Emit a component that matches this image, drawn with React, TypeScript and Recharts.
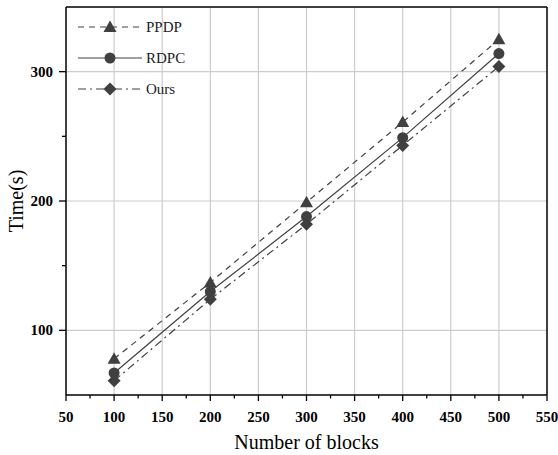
import { CartesianGrid, Legend, Line, LineChart, ReferenceLine, XAxis, YAxis } from "recharts";

const blocks = [100, 200, 300, 400, 500];
const ppdp = [78, 137, 199, 261, 325];
const rdpc = [67, 130, 188, 249, 314];
const ours = [61, 124, 182, 243, 304];

const xTicks = [50, 75, 100, 125, 150, 175, 200, 225, 250, 275, 300, 325, 350, 375, 400, 425, 450, 475, 500, 525, 550];
const yTicks = [100, 150, 200, 250, 300];
const xGrid = [100, 150, 200, 250, 300, 350, 400, 450, 500];
const yGrid = [100, 200, 300];

const data = blocks.map((b, i) => ({ blocks: b, ppdp: ppdp[i], rdpc: rdpc[i], ours: ours[i] }));

const FONT = "'Liberation Serif', 'Times New Roman', serif";
const INK = "#404040";

type Marker = "triangle" | "circle" | "diamond";

function drawMarker(kind: Marker, cx: number, cy: number, key?: string) {
    if (kind === "triangle") {
        return <polygon key={key} points={`${cx},${cy - 6.5} ${cx + 6.5},${cy + 5} ${cx - 6.5},${cy + 5}`} fill={INK} />;
    }
    if (kind === "circle") {
        return <circle key={key} cx={cx} cy={cy} r={5.5} fill={INK} />;
    }
    return <polygon key={key} points={`${cx},${cy - 6.5} ${cx + 6.5},${cy} ${cx},${cy + 6.5} ${cx - 6.5},${cy}`} fill={INK} />;
}

const dotFor = (kind: Marker) => (props: any) => drawMarker(kind, props.cx, props.cy, `${kind}-${props.index}`);

const series = [
    { key: "ppdp", name: "PPDP", marker: "triangle" as Marker, dash: "6 5" },
    { key: "rdpc", name: "RDPC", marker: "circle" as Marker, dash: undefined },
    { key: "ours", name: "Ours", marker: "diamond" as Marker, dash: "8 4 2 4" },
];

function XTick({ x, y, payload }: any) {
    const major = payload.value % 50 === 0;
    return (
        <g>
            <line x1={x} x2={x} y1={y} y2={y + (major ? 6 : 3.5)} stroke="#000" strokeWidth={1.3} />
            {major && (
                <text x={x} y={y + 27} textAnchor="middle" fontFamily={FONT} fontWeight="bold" fontSize={15} fill="#000">
                    {payload.value}
                </text>
            )}
        </g>
    );
}

function YTick({ x, y, payload }: any) {
    const major = payload.value % 100 === 0;
    return (
        <g>
            <line x1={x} x2={x - (major ? 7 : 4)} y1={y} y2={y} stroke="#000" strokeWidth={1.3} />
            {major && (
                <text x={x - 13} y={y + 5} textAnchor="end" fontFamily={FONT} fontWeight="bold" fontSize={15} fill="#000">
                    {payload.value}
                </text>
            )}
        </g>
    );
}

function LegendBox() {
    return (
        <svg width={130} height={100}>
            {series.map((s, i) => {
                const y = 20 + i * 31;
                return (
                    <g key={s.key}>
                        <line x1={8} x2={72} y1={y} y2={y} stroke={INK} strokeWidth={1.2} strokeDasharray={s.dash} />
                        {drawMarker(s.marker, 40, y)}
                        <text x={76} y={y + 5} fontFamily={FONT} fontSize={15} fill="#222">
                            {s.name}
                        </text>
                    </g>
                );
            })}
        </svg>
    );
}

export default function App() {
    return (
        <div style={{ position: "absolute", left: 0, top: 0, background: "#fff" }}>
            <LineChart width={558} height={455} data={data} margin={{ top: 7, right: 11, bottom: 0, left: 0 }}>
                <CartesianGrid horizontal={false} vertical={false} />
                {xGrid.map((v) => (
                    <ReferenceLine key={`gx${v}`} x={v} stroke="#cccccc" strokeWidth={1.2} />
                ))}
                {yGrid.map((v) => (
                    <ReferenceLine key={`gy${v}`} y={v} stroke="#cccccc" strokeWidth={1.2} />
                ))}
                <ReferenceLine y={350} stroke="#000" strokeWidth={1.5} />
                <ReferenceLine x={550} stroke="#000" strokeWidth={1.5} />
                <XAxis
                    dataKey="blocks"
                    type="number"
                    domain={[50, 550]}
                    ticks={xTicks}
                    interval={0}
                    tickSize={0}
                    tickMargin={0}
                    tickLine={false}
                    tick={<XTick />}
                    height={60}
                    axisLine={{ stroke: "#000", strokeWidth: 1.5 }}
                    label={{ value: "Number of blocks", position: "insideBottom", offset: 6, fontFamily: FONT, fontSize: 20, fill: "#000" }}
                />
                <YAxis
                    type="number"
                    domain={[50, 350]}
                    ticks={yTicks}
                    interval={0}
                    tickSize={0}
                    tickMargin={0}
                    tickLine={false}
                    tick={<YTick />}
                    width={66}
                    axisLine={{ stroke: "#000", strokeWidth: 1.5 }}
                    label={{ value: "Time(s)", angle: -90, position: "insideLeft", offset: 16, fontFamily: FONT, fontSize: 20, fill: "#000", style: { textAnchor: "middle" } }}
                />
                <Legend
                    layout="vertical"
                    align="center"
                    verticalAlign="middle"
                    content={<LegendBox />}
                    wrapperStyle={{ position: "absolute", left: 70, top: 7, width: 130, height: 100 }}
                />
                {series.map((s) => (
                    <Line
                        key={s.key}
                        dataKey={s.key}
                        name={s.name}
                        stroke={INK}
                        strokeWidth={1.2}
                        strokeDasharray={s.dash}
                        dot={dotFor(s.marker)}
                        activeDot={false}
                        isAnimationActive={false}
                    />
                ))}
            </LineChart>
        </div>
    );
}
